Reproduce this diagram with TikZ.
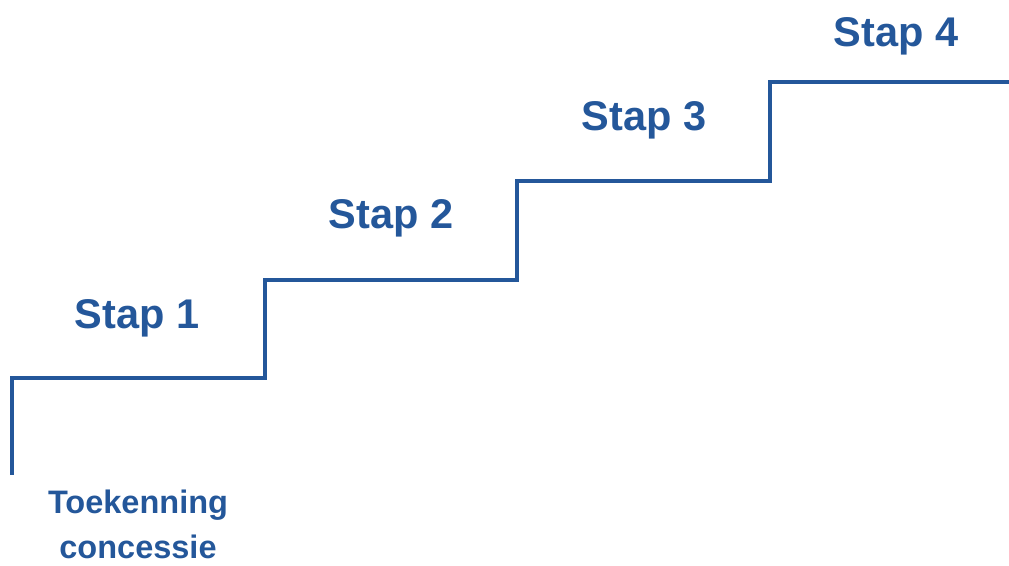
\documentclass[tikz,border=0pt]{standalone}
\usepackage{fontspec}
\setmainfont{Liberation Sans}
\usepackage{tikz}
\usetikzlibrary{positioning}
\definecolor{stapblauw}{HTML}{24579A}

\begin{document}
\begin{tikzpicture}[x=1pt,y=1pt,
    staplabel/.style={text=stapblauw, font=\bfseries\fontsize{41.5}{48}\selectfont},
    startlabel/.style={text=stapblauw, font=\bfseries\fontsize{32.5}{45}\selectfont, align=center}]
    \useasboundingbox (0,0) rectangle (1009,565);

    % Corners of the stairs
    \coordinate (s0) at (12,90);
    \coordinate (s1) at (12,187);
    \coordinate (s2) at (265,187);
    \coordinate (s3) at (265,285);
    \coordinate (s4) at (517,285);
    \coordinate (s5) at (517,384);
    \coordinate (s6) at (770,384);
    \coordinate (s7) at (770,483);
    \coordinate (s8) at (1009,483);

    % The stairs
    \draw[stapblauw, line width=4pt] (s0) -- (s1) -- (s2) -- (s3) -- (s4) -- (s5) -- (s6) -- (s7) -- (s8);

    % Step labels
    \node[staplabel] (stap1) at (137,247) {Stap 1};
    \node[staplabel] (stap2) at (391,347) {Stap 2};
    \node[staplabel] (stap3) at (644,445) {Stap 3};
    \node[staplabel] (stap4) at (896,529) {Stap 4};

    % Starting point
    \node[startlabel] (start) at (138,41) {Toekenning\\concessie};
\end{tikzpicture}
\end{document}
